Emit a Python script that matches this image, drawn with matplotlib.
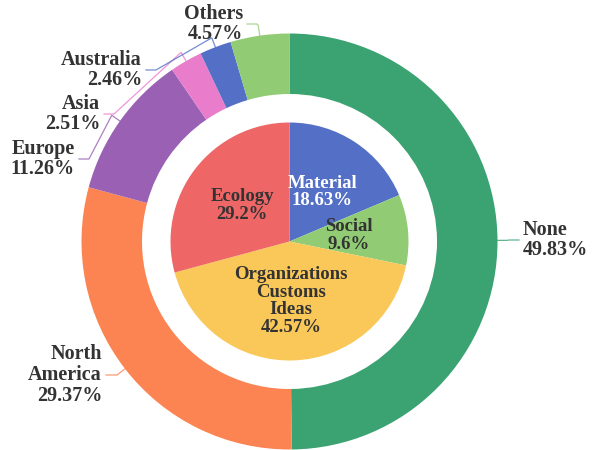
import numpy as np
import matplotlib
matplotlib.use('Agg')
import matplotlib.pyplot as plt

plt.rcParams['font.family'] = ['Liberation Serif', 'DejaVu Serif']
plt.rcParams['font.weight'] = 'bold'

# inner pie: culture categories
inner_labels = ['Material', 'Social', 'Organizations\nCustoms\nIdeas', 'Ecology']
inner_values = [18.63, 9.6, 42.57, 29.2]
inner_colors = ['#5470c6', '#91cc75', '#fac858', '#ee6666']
inner_text_colors = ['white', '#333333', '#333333', '#333333']

# outer ring: regions
outer_labels = ['None', 'North\nAmerica', 'Europe', 'Asia', 'Australia', 'Others']
outer_values = [49.83, 29.37, 11.26, 2.51, 2.46, 4.57]
outer_colors = ['#3ba272', '#fc8452', '#9a60b4', '#ea7ccc', '#5470c6', '#91cc75']

W, H = 592, 450
cx, cy = 289.5, H - 241.5
R_out, R_ring, R_in = 208, 147.5, 119

# where each outer label sits (pixels from top-left)
outer_label_pos = [(523, 240), (102, 375), (75, 159), (100, 114), (142, 70), (243, 24)]

fig = plt.figure(figsize=(W / 100, H / 100), dpi=100)
ax = fig.add_axes([0, 0, 1, 1])

wedges_out, _ = ax.pie(outer_values, radius=R_out, center=(cx, cy), colors=outer_colors,
                       startangle=90, counterclock=False,
                       wedgeprops=dict(width=R_out - R_ring, linewidth=0))
wedges_in, _ = ax.pie(inner_values, radius=R_in, center=(cx, cy), colors=inner_colors,
                      startangle=90, counterclock=False,
                      wedgeprops=dict(linewidth=0))

# inner labels, inside the slices
for w, lab, val, tc in zip(wedges_in, inner_labels, inner_values, inner_text_colors):
    a = np.deg2rad((w.theta1 + w.theta2) / 2)
    x = cx + 0.5 * R_in * np.cos(a)
    y = cy + 0.5 * R_in * np.sin(a)
    ax.text(x, y, f'{lab}\n{val}%', ha='center', va='center', color=tc,
            fontsize=13.5, fontweight='bold', linespacing=1.05)

# outer labels with leader lines
for w, lab, val, col, (tx, ty) in zip(wedges_out, outer_labels, outer_values,
                                      outer_colors, outer_label_pos):
    a = np.deg2rad((w.theta1 + w.theta2) / 2)
    ty = H - ty
    x0, y0 = cx + R_out * np.cos(a), cy + R_out * np.sin(a)
    x1, y1 = cx + (R_out + 10) * np.cos(a), cy + (R_out + 10) * np.sin(a)
    if tx > cx:
        xs = [x0, x1, tx - 14, tx - 4]
        ha = 'left'
    else:
        xs = [x0, x1, tx + 14, tx + 4]
        ha = 'right'
    ys = [y0, y1, ty, ty]
    ax.plot(xs, ys, color=col, lw=0.9, alpha=0.8)
    ax.text(tx, ty, f'{lab}\n{val}%', ha=ha, va='center', multialignment=ha,
            color='#333333', fontsize=14.5, fontweight='bold', linespacing=1.05)

ax.set_xlim(0, W)
ax.set_ylim(0, H)
ax.set_aspect('equal')
ax.axis('off')

fig.savefig('out.png', dpi=100)
